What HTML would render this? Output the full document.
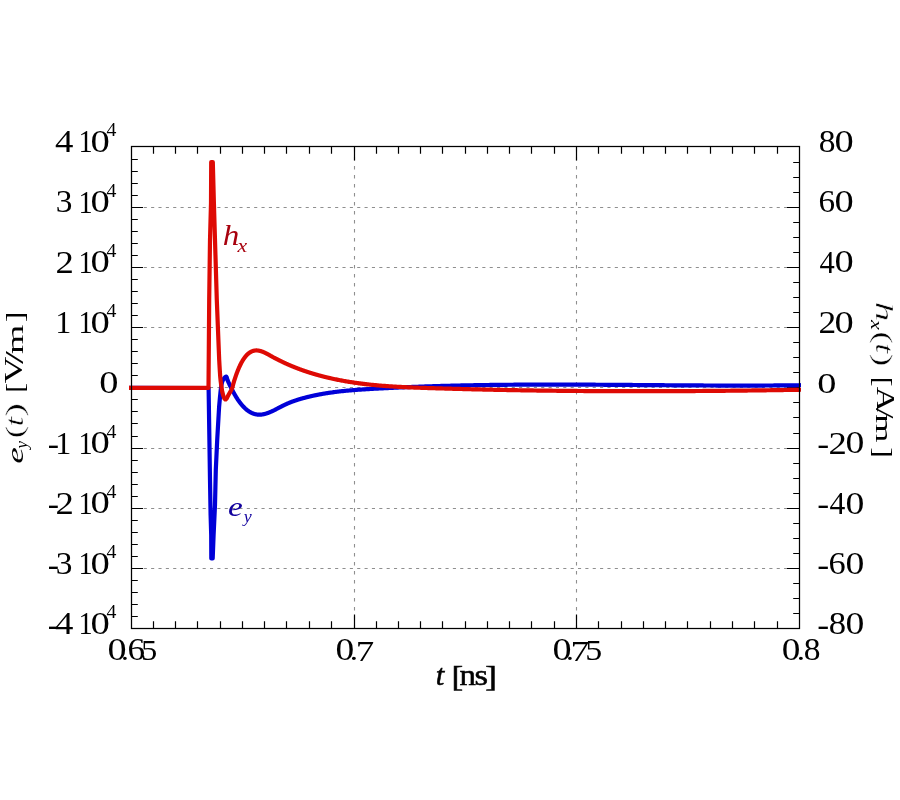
<!DOCTYPE html>
<html><head><meta charset="utf-8"><style>
html,body{margin:0;padding:0;background:#fff;width:900px;height:800px;overflow:hidden}
svg{display:block}
text{font-size:40px;stroke:#fff;stroke-width:0px;paint-order:normal}
.tx{opacity:0.999}
.r{font-family:"Liberation Serif",serif}
.i{font-family:"Liberation Serif",serif;font-style:italic}
</style></head><body>
<svg width="900" height="800" viewBox="0 0 900 800"><g stroke="#8f8f8f" stroke-width="1.1" stroke-dasharray="3.1 4.26" stroke-dashoffset="2.47"><line x1="131.50" y1="568.50" x2="799.50" y2="568.50"/><line x1="131.50" y1="508.50" x2="799.50" y2="508.50"/><line x1="131.50" y1="448.50" x2="799.50" y2="448.50"/><line x1="131.50" y1="387.50" x2="799.50" y2="387.50"/><line x1="131.50" y1="327.50" x2="799.50" y2="327.50"/><line x1="131.50" y1="267.50" x2="799.50" y2="267.50"/><line x1="131.50" y1="207.50" x2="799.50" y2="207.50"/></g><g stroke="#8f8f8f" stroke-width="1.1" stroke-dasharray="3.5 5.5"><line x1="354.50" y1="628.50" x2="354.50" y2="146.50"/><line x1="576.50" y1="628.50" x2="576.50" y2="146.50"/></g><path d="M153.50 628.50V621.20M153.50 146.50V153.80M175.50 628.50V621.20M175.50 146.50V153.80M197.50 628.50V621.20M197.50 146.50V153.80M220.50 628.50V621.20M220.50 146.50V153.80M242.50 628.50V621.20M242.50 146.50V153.80M264.50 628.50V621.20M264.50 146.50V153.80M286.50 628.50V621.20M286.50 146.50V153.80M309.50 628.50V621.20M309.50 146.50V153.80M331.50 628.50V621.20M331.50 146.50V153.80M354.50 628.50V614.50M354.50 146.50V160.50M376.50 628.50V621.20M376.50 146.50V153.80M398.50 628.50V621.20M398.50 146.50V153.80M420.50 628.50V621.20M420.50 146.50V153.80M442.50 628.50V621.20M442.50 146.50V153.80M465.50 628.50V621.20M465.50 146.50V153.80M487.50 628.50V621.20M487.50 146.50V153.80M509.50 628.50V621.20M509.50 146.50V153.80M531.50 628.50V621.20M531.50 146.50V153.80M554.50 628.50V621.20M554.50 146.50V153.80M576.50 628.50V614.50M576.50 146.50V160.50M598.50 628.50V621.20M598.50 146.50V153.80M621.50 628.50V621.20M621.50 146.50V153.80M643.50 628.50V621.20M643.50 146.50V153.80M665.50 628.50V621.20M665.50 146.50V153.80M687.50 628.50V621.20M687.50 146.50V153.80M710.50 628.50V621.20M710.50 146.50V153.80M732.50 628.50V621.20M732.50 146.50V153.80M754.50 628.50V621.20M754.50 146.50V153.80M777.50 628.50V621.20M777.50 146.50V153.80M131.50 159.50H137.80M131.50 171.50H137.80M131.50 183.50H137.80M131.50 195.50H137.80M131.50 207.50H143.00M131.50 219.50H137.80M131.50 231.50H137.80M131.50 243.50H137.80M131.50 255.50H137.80M131.50 267.50H143.00M131.50 279.50H137.80M131.50 291.50H137.80M131.50 303.50H137.80M131.50 315.50H137.80M131.50 327.50H143.00M131.50 339.50H137.80M131.50 351.50H137.80M131.50 363.50H137.80M131.50 375.50H137.80M131.50 387.50H143.00M131.50 399.50H137.80M131.50 411.50H137.80M131.50 423.50H137.80M131.50 436.50H137.80M131.50 448.50H143.00M131.50 460.50H137.80M131.50 472.50H137.80M131.50 484.50H137.80M131.50 496.50H137.80M131.50 508.50H143.00M131.50 520.50H137.80M131.50 532.50H137.80M131.50 544.50H137.80M131.50 556.50H137.80M131.50 568.50H143.00M131.50 580.50H137.80M131.50 592.50H137.80M131.50 604.50H137.80M131.50 616.50H137.80M799.50 162.50H793.20M799.50 177.50H793.20M799.50 192.50H793.20M799.50 207.50H787.00M799.50 222.50H793.20M799.50 237.50H793.20M799.50 252.50H793.20M799.50 267.50H787.00M799.50 282.50H793.20M799.50 297.50H793.20M799.50 312.50H793.20M799.50 327.50H787.00M799.50 342.50H793.20M799.50 357.50H793.20M799.50 372.50H793.20M799.50 387.50H787.00M799.50 402.50H793.20M799.50 417.50H793.20M799.50 433.50H793.20M799.50 448.50H787.00M799.50 463.50H793.20M799.50 478.50H793.20M799.50 493.50H793.20M799.50 508.50H787.00M799.50 523.50H793.20M799.50 538.50H793.20M799.50 553.50H793.20M799.50 568.50H787.00M799.50 583.50H793.20M799.50 598.50H793.20M799.50 613.50H793.20" stroke="#000" stroke-width="1.2" fill="none"/><polyline points="129.00,387.90 208.60,388.00 209.40,440.00 210.00,480.00 210.60,515.00 211.20,535.00 211.30,558.50 212.70,558.50 213.60,535.00 215.00,505.00 215.80,470.00 217.20,440.00 219.10,407.00 220.00,397.00 220.10,396.00 220.24,394.59 220.41,392.94 220.59,391.19 220.79,389.49 221.00,388.00 221.20,386.69 221.39,385.42 221.59,384.21 221.83,383.07 222.13,381.99 222.50,381.00 222.99,380.02 223.59,379.04 224.25,378.14 224.91,377.38 225.51,376.84 226.00,376.59 226.37,376.72 226.65,377.18 226.88,377.86 227.07,378.64 227.27,379.42 227.50,380.09 227.75,380.66 228.00,381.22 228.25,381.78 228.50,382.33 228.75,382.88 229.00,383.43 229.25,383.96 229.50,384.50 229.75,385.03 230.00,385.55 230.25,386.08 230.50,386.59 230.75,387.10 231.00,387.61 231.25,388.11 231.50,388.61 231.75,389.10 232.00,389.59 232.25,390.07 232.50,390.55 232.75,391.02 233.00,391.49 233.25,391.95 233.50,392.41 233.75,392.87 234.00,393.32 234.25,393.76 234.50,394.20 234.75,394.63 235.00,395.06 235.25,395.49 235.50,395.91 235.75,396.33 236.00,396.74 236.25,397.14 236.50,397.54 236.75,397.94 237.00,398.33 237.25,398.72 237.50,399.10 237.75,399.47 238.00,399.85 238.25,400.21 238.50,400.57 238.75,400.93 239.00,401.28 239.25,401.63 239.50,401.97 239.75,402.31 240.00,402.64 240.25,402.97 240.50,403.29 240.75,403.61 241.00,403.92 241.25,404.23 241.50,404.53 241.75,404.83 242.00,405.12 242.25,405.41 242.50,405.69 242.75,405.97 243.00,406.25 243.25,406.51 243.50,406.78 243.75,407.04 244.00,407.29 244.25,407.54 244.50,407.79 244.75,408.03 245.00,408.26 245.25,408.50 245.50,408.72 245.75,408.95 246.00,409.16 246.25,409.38 246.50,409.58 246.75,409.79 247.00,409.99 247.25,410.18 247.50,410.37 247.75,410.56 248.00,410.74 248.25,410.92 248.50,411.09 248.75,411.26 249.00,411.43 249.25,411.59 249.50,411.74 249.75,411.89 250.00,412.04 250.25,412.18 250.50,412.32 250.75,412.46 251.00,412.59 251.25,412.71 251.50,412.84 251.75,412.96 252.00,413.07 252.25,413.18 252.50,413.28 252.75,413.39 253.00,413.48 253.25,413.58 253.50,413.67 253.75,413.75 254.00,413.83 254.25,413.91 254.50,413.99 254.75,414.06 255.00,414.12 255.25,414.18 255.50,414.24 255.75,414.30 256.00,414.35 256.25,414.39 256.50,414.44 256.75,414.48 257.00,414.51 257.25,414.54 257.50,414.57 257.75,414.60 258.00,414.62 258.25,414.64 258.50,414.65 258.75,414.66 259.00,414.67 259.25,414.67 259.50,414.67 259.75,414.66 260.00,414.66 260.25,414.65 260.50,414.63 260.75,414.62 261.00,414.60 261.25,414.57 261.50,414.55 261.75,414.52 262.00,414.49 262.25,414.45 262.50,414.41 262.75,414.37 263.00,414.33 263.25,414.28 263.50,414.23 263.75,414.18 264.00,414.12 264.25,414.07 264.50,414.01 264.75,413.94 265.00,413.88 265.25,413.81 265.50,413.74 265.75,413.67 266.00,413.60 266.25,413.52 266.50,413.44 266.75,413.36 267.00,413.28 267.25,413.19 267.50,413.11 267.75,413.02 268.00,412.93 268.25,412.83 268.50,412.74 268.75,412.64 269.00,412.54 269.25,412.44 269.50,412.34 269.75,412.24 270.00,412.14 270.25,412.03 270.50,411.92 270.75,411.81 271.00,411.70 271.25,411.59 271.50,411.48 271.75,411.36 272.00,411.25 272.25,411.13 272.50,411.01 272.75,410.89 273.00,410.77 273.25,410.65 273.50,410.53 273.75,410.41 274.00,410.28 274.25,410.16 274.50,410.03 274.75,409.91 275.00,409.78 275.25,409.65 275.50,409.53 275.75,409.40 276.00,409.27 276.25,409.14 276.50,409.01 276.75,408.88 277.00,408.75 277.25,408.62 277.50,408.49 277.75,408.36 278.00,408.23 278.25,408.09 278.50,407.96 278.75,407.83 279.00,407.70 279.25,407.57 279.50,407.44 279.75,407.31 280.00,407.18 280.25,407.04 280.50,406.91 280.75,406.78 281.00,406.65 281.25,406.53 281.50,406.40 281.75,406.27 282.00,406.14 282.25,406.01 282.50,405.89 282.75,405.76 283.00,405.64 283.25,405.51 283.50,405.39 283.75,405.27 284.00,405.15 284.25,405.03 284.50,404.91 284.75,404.79 285.00,404.67 285.25,404.56 285.50,404.44 285.75,404.32 286.00,404.21 286.25,404.10 286.50,403.99 286.75,403.87 287.00,403.76 287.25,403.65 287.50,403.55 287.75,403.44 288.00,403.33 288.25,403.22 288.50,403.12 288.75,403.02 289.00,402.91 289.25,402.81 289.50,402.71 289.75,402.61 290.00,402.51 290.25,402.41 290.50,402.31 290.75,402.21 291.00,402.11 291.25,402.01 291.50,401.92 291.75,401.82 292.00,401.73 292.25,401.64 292.50,401.54 292.75,401.45 293.00,401.36 293.25,401.27 293.50,401.18 293.75,401.09 294.00,401.00 294.25,400.91 294.50,400.83 294.75,400.74 295.00,400.65 295.25,400.57 295.50,400.48 295.75,400.40 296.00,400.32 296.25,400.23 296.50,400.15 296.75,400.07 297.00,399.99 297.25,399.91 297.50,399.83 297.75,399.75 298.00,399.67 298.25,399.59 298.50,399.51 298.75,399.44 299.00,399.36 299.25,399.28 299.50,399.21 299.75,399.13 300.00,399.06 300.25,398.99 300.50,398.91 300.75,398.84 301.00,398.77 301.25,398.70 301.50,398.62 301.75,398.55 302.00,398.48 302.25,398.41 302.50,398.34 302.75,398.27 303.00,398.21 303.25,398.14 303.50,398.07 303.75,398.00 304.00,397.93 304.25,397.87 304.50,397.80 304.75,397.74 305.00,397.67 305.25,397.61 305.50,397.54 305.75,397.48 306.00,397.41 306.25,397.35 306.50,397.28 306.75,397.22 307.00,397.16 307.25,397.10 307.50,397.03 307.75,396.97 308.00,396.91 308.25,396.85 308.50,396.79 308.75,396.73 309.00,396.67 309.25,396.61 309.50,396.55 309.75,396.49 310.00,396.43 310.25,396.37 310.50,396.32 310.75,396.26 311.00,396.20 311.25,396.14 311.50,396.09 311.75,396.03 312.00,395.97 312.25,395.92 312.50,395.86 312.75,395.81 313.00,395.75 313.25,395.70 313.50,395.64 313.75,395.59 314.00,395.54 314.25,395.48 314.50,395.43 314.75,395.38 315.00,395.32 315.25,395.27 315.50,395.22 315.75,395.17 316.00,395.12 316.25,395.07 316.50,395.02 316.75,394.97 317.00,394.92 317.25,394.87 317.50,394.82 317.75,394.77 318.00,394.72 318.25,394.67 318.50,394.62 318.75,394.57 319.00,394.53 319.25,394.48 319.50,394.43 319.75,394.38 320.00,394.34 320.25,394.29 320.50,394.24 320.75,394.20 321.00,394.15 321.25,394.11 321.50,394.06 321.75,394.02 322.00,393.97 322.25,393.93 322.50,393.88 322.75,393.84 323.00,393.80 323.25,393.75 323.50,393.71 323.75,393.67 324.00,393.63 324.25,393.58 324.50,393.54 324.75,393.50 325.00,393.46 325.25,393.42 325.50,393.38 325.75,393.34 326.00,393.30 326.25,393.26 326.50,393.22 326.75,393.18 327.00,393.14 327.25,393.10 327.50,393.06 327.75,393.02 328.00,392.98 328.26,392.94 328.54,392.90 328.81,392.86 329.07,392.82 329.31,392.78 329.50,392.76 329.58,392.74 329.54,392.75 329.47,392.76 329.46,392.76 329.61,392.74 330.00,392.68 330.68,392.59 331.59,392.46 332.66,392.32 333.80,392.16 334.94,392.01 336.00,391.87 337.00,391.75 338.00,391.63 339.00,391.51 340.00,391.40 341.00,391.28 342.00,391.18 343.00,391.07 344.00,390.97 345.00,390.87 346.00,390.77 347.00,390.67 348.00,390.58 349.00,390.49 350.00,390.40 351.00,390.32 352.00,390.23 353.00,390.15 354.00,390.07 355.00,389.99 356.00,389.92 357.00,389.84 358.00,389.77 359.00,389.70 360.00,389.63 361.00,389.56 362.00,389.49 363.00,389.43 364.00,389.36 365.00,389.30 366.00,389.24 367.00,389.17 368.00,389.11 369.00,389.05 370.00,389.00 371.00,388.94 372.00,388.88 373.00,388.82 374.00,388.77 375.00,388.71 376.00,388.66 377.00,388.60 378.00,388.55 379.00,388.49 380.00,388.44 381.00,388.39 382.00,388.33 383.00,388.28 384.00,388.23 385.00,388.18 386.00,388.13 387.00,388.08 388.00,388.03 389.00,387.98 390.00,387.93 391.00,387.88 392.00,387.83 393.00,387.78 394.00,387.74 395.00,387.69 396.00,387.64 397.00,387.60 398.00,387.55 399.00,387.50 400.00,387.46 401.00,387.42 402.00,387.37 403.00,387.33 404.00,387.29 405.00,387.24 406.00,387.20 407.00,387.16 408.00,387.12 409.00,387.08 410.00,387.04 411.00,387.00 412.00,386.96 413.00,386.92 414.00,386.88 415.00,386.84 416.00,386.80 417.00,386.76 418.00,386.73 419.00,386.69 420.00,386.65 421.00,386.62 422.00,386.58 423.00,386.54 424.00,386.51 425.00,386.47 426.00,386.44 427.00,386.41 428.00,386.37 429.00,386.34 430.00,386.31 431.00,386.28 432.00,386.24 433.00,386.21 434.00,386.18 435.00,386.15 436.00,386.12 437.00,386.09 438.00,386.06 439.00,386.03 440.00,386.00 441.00,385.97 442.00,385.94 443.00,385.92 444.00,385.89 445.00,385.86 446.00,385.83 447.00,385.81 448.00,385.78 449.00,385.75 450.00,385.73 451.00,385.70 452.00,385.68 453.00,385.65 454.00,385.63 455.00,385.61 456.00,385.58 457.00,385.56 458.00,385.54 459.00,385.51 460.00,385.49 461.00,385.47 462.00,385.45 463.00,385.43 464.00,385.40 465.00,385.38 466.00,385.36 467.00,385.34 468.00,385.32 469.00,385.30 470.00,385.29 471.00,385.27 472.00,385.25 473.00,385.23 474.00,385.21 475.00,385.19 476.00,385.18 477.00,385.16 478.00,385.14 479.00,385.13 480.00,385.11 481.00,385.09 482.00,385.08 483.00,385.06 484.00,385.05 485.00,385.03 486.00,385.02 487.00,385.00 488.00,384.99 489.00,384.98 490.00,384.96 491.00,384.95 492.00,384.94 493.00,384.92 494.00,384.91 495.00,384.90 496.00,384.89 497.00,384.88 498.00,384.87 499.00,384.85 500.00,384.84 501.00,384.83 502.00,384.82 503.00,384.81 504.00,384.80 505.00,384.79 506.00,384.78 507.00,384.78 508.00,384.77 509.00,384.76 510.00,384.75 511.00,384.74 512.00,384.73 513.00,384.73 514.00,384.72 515.00,384.71 516.00,384.70 517.00,384.70 518.00,384.69 519.00,384.68 520.00,384.68 521.00,384.67 522.00,384.67 523.00,384.66 524.00,384.66 525.00,384.65 526.00,384.65 527.00,384.64 528.00,384.64 529.00,384.63 530.00,384.63 531.00,384.63 532.00,384.62 533.00,384.62 534.00,384.62 535.00,384.61 536.00,384.61 537.00,384.61 538.00,384.60 539.00,384.60 540.00,384.60 541.00,384.60 542.00,384.60 543.00,384.60 544.00,384.59 545.00,384.59 546.00,384.59 547.00,384.59 548.00,384.59 549.00,384.59 550.00,384.59 551.00,384.59 552.00,384.59 553.00,384.59 554.00,384.59 555.00,384.59 556.00,384.59 557.00,384.59 558.00,384.59 559.00,384.59 560.00,384.60 561.00,384.60 562.00,384.60 563.00,384.60 564.00,384.60 565.00,384.60 566.00,384.61 567.00,384.61 568.00,384.61 569.00,384.61 570.00,384.62 571.00,384.62 572.00,384.62 573.00,384.63 574.00,384.63 575.00,384.63 576.00,384.64 577.00,384.64 578.00,384.64 579.00,384.65 580.00,384.65 581.00,384.65 582.00,384.66 583.00,384.66 584.00,384.67 585.00,384.67 586.00,384.68 587.00,384.68 588.00,384.69 589.00,384.69 590.00,384.70 591.00,384.70 592.00,384.71 593.00,384.71 594.00,384.72 595.00,384.72 596.00,384.73 597.00,384.73 598.00,384.74 599.00,384.75 600.00,384.75 601.00,384.76 602.00,384.76 603.00,384.77 604.00,384.78 605.00,384.78 606.00,384.79 607.00,384.79 608.00,384.80 609.00,384.81 610.00,384.81 611.00,384.82 612.00,384.83 613.00,384.83 614.00,384.84 615.00,384.85 616.00,384.86 617.00,384.86 618.00,384.87 619.00,384.88 620.00,384.88 621.00,384.89 622.00,384.90 623.00,384.91 624.00,384.91 625.00,384.92 626.00,384.93 627.00,384.94 628.00,384.94 629.00,384.95 630.00,384.96 631.00,384.97 632.00,384.97 633.00,384.98 634.00,384.99 635.00,385.00 636.00,385.00 637.00,385.01 638.00,385.02 639.00,385.03 640.00,385.03 641.00,385.04 642.00,385.05 643.00,385.06 644.00,385.07 645.00,385.07 646.00,385.08 647.00,385.09 648.00,385.10 649.00,385.10 650.00,385.11 651.00,385.12 652.00,385.13 653.00,385.14 654.00,385.14 655.00,385.15 656.00,385.16 657.00,385.17 658.00,385.17 659.00,385.18 660.00,385.19 661.00,385.20 662.00,385.20 663.00,385.21 664.00,385.22 665.00,385.23 666.00,385.23 667.00,385.24 668.00,385.25 669.00,385.26 670.00,385.26 671.00,385.27 672.00,385.28 673.00,385.29 674.00,385.29 675.00,385.30 676.00,385.31 677.00,385.31 678.00,385.32 679.00,385.33 680.00,385.33 681.00,385.34 682.00,385.35 683.00,385.35 684.00,385.36 685.00,385.37 686.00,385.37 687.00,385.38 688.00,385.39 689.00,385.39 690.00,385.40 691.00,385.40 692.00,385.41 693.00,385.42 694.00,385.42 695.00,385.43 696.00,385.43 697.00,385.44 698.00,385.45 699.00,385.45 700.00,385.46 701.00,385.46 702.00,385.47 703.00,385.47 704.00,385.48 705.00,385.48 706.00,385.49 707.00,385.49 708.00,385.49 709.00,385.50 710.00,385.50 711.00,385.51 712.00,385.51 713.00,385.52 714.00,385.52 715.00,385.52 716.00,385.53 717.00,385.53 718.00,385.53 719.00,385.54 720.00,385.54 721.00,385.54 722.00,385.55 723.00,385.55 724.00,385.55 725.00,385.55 726.00,385.56 727.00,385.56 728.00,385.56 729.00,385.56 730.00,385.56 731.00,385.57 732.00,385.57 733.00,385.57 734.00,385.57 735.00,385.57 736.00,385.57 737.00,385.57 738.00,385.57 739.00,385.57 740.00,385.57 741.00,385.57 742.00,385.57 743.00,385.57 744.00,385.57 745.00,385.57 746.00,385.57 747.00,385.57 748.00,385.57 749.00,385.57 750.00,385.57 751.00,385.57 752.00,385.56 753.00,385.56 754.00,385.56 755.00,385.56 756.00,385.55 757.00,385.55 758.00,385.55 759.00,385.55 760.00,385.54 761.00,385.54 762.00,385.54 763.00,385.53 764.00,385.53 765.00,385.52 766.00,385.52 767.00,385.51 768.00,385.51 769.00,385.50 770.00,385.50 771.00,385.49 772.00,385.49 773.00,385.48 774.00,385.47 775.00,385.47 776.00,385.46 777.00,385.45 778.00,385.45 779.00,385.44 780.00,385.43 781.00,385.42 782.00,385.42 783.00,385.41 784.00,385.40 785.00,385.39 786.00,385.38 787.00,385.37 788.00,385.36 789.00,385.35 790.00,385.34 791.00,385.33 792.00,385.32 793.03,385.31 794.11,385.30 795.19,385.29 796.22,385.28 797.17,385.26 798.00,385.25 798.71,385.25 799.33,385.24 799.88,385.23 800.33,385.23 800.71,385.22 801.00,385.22" fill="none" stroke="#0000d8" stroke-width="4.2" stroke-linejoin="round"/><polyline points="129.00,387.90 208.50,387.90 209.20,300.00 210.00,240.00 211.00,203.00 211.20,162.00 212.80,162.00 213.90,203.00 215.00,240.00 216.80,300.00 219.20,360.00 219.31,361.93 219.46,364.67 219.65,367.88 219.85,371.22 220.05,374.37 220.25,377.00 220.45,379.10 220.65,380.94 220.85,382.59 221.06,384.11 221.28,385.56 221.50,387.00 221.71,388.42 221.91,389.78 222.12,391.06 222.34,392.28 222.60,393.42 222.90,394.50 223.26,395.59 223.65,396.72 224.08,397.78 224.54,398.67 225.02,399.27 225.50,399.50 226.00,399.26 226.54,398.62 227.08,397.69 227.64,396.62 228.20,395.51 228.75,394.50 229.31,393.54 229.90,392.51 230.48,391.46 231.05,390.40 231.56,389.37 232.00,388.38 232.35,387.45 232.63,386.55 232.86,385.66 233.06,384.80 233.27,383.95 233.50,383.11 233.75,382.28 234.00,381.46 234.25,380.65 234.50,379.86 234.75,379.08 235.00,378.31 235.25,377.55 235.50,376.81 235.75,376.08 236.00,375.37 236.25,374.66 236.50,373.97 236.75,373.29 237.00,372.62 237.25,371.97 237.50,371.32 237.75,370.69 238.00,370.07 238.25,369.46 238.50,368.86 238.75,368.28 239.00,367.70 239.25,367.14 239.50,366.59 239.75,366.05 240.00,365.52 240.25,365.00 240.50,364.49 240.75,364.00 241.00,363.51 241.25,363.03 241.50,362.57 241.75,362.11 242.00,361.67 242.25,361.24 242.50,360.81 242.75,360.40 243.00,359.99 243.25,359.60 243.50,359.22 243.75,358.84 244.00,358.48 244.25,358.12 244.50,357.77 244.75,357.44 245.00,357.11 245.25,356.79 245.50,356.48 245.75,356.18 246.00,355.89 246.25,355.60 246.50,355.33 246.75,355.07 247.00,354.81 247.25,354.56 247.50,354.32 247.75,354.09 248.00,353.86 248.25,353.65 248.50,353.44 248.75,353.24 249.00,353.05 249.25,352.86 249.50,352.68 249.75,352.51 250.00,352.35 250.25,352.20 250.50,352.05 250.75,351.91 251.00,351.78 251.25,351.65 251.50,351.53 251.75,351.42 252.00,351.31 252.25,351.21 252.50,351.12 252.75,351.03 253.00,350.95 253.25,350.88 253.50,350.81 253.75,350.75 254.00,350.69 254.25,350.65 254.50,350.60 254.75,350.56 255.00,350.53 255.25,350.50 255.50,350.48 255.75,350.47 256.00,350.45 256.25,350.45 256.50,350.45 256.75,350.45 257.00,350.46 257.25,350.48 257.50,350.49 257.75,350.52 258.00,350.54 258.25,350.58 258.50,350.61 258.75,350.65 259.00,350.70 259.25,350.75 259.50,350.80 259.75,350.86 260.00,350.92 260.25,350.98 260.50,351.05 260.75,351.12 261.00,351.20 261.25,351.28 261.50,351.36 261.75,351.45 262.00,351.53 262.25,351.62 262.50,351.72 262.75,351.82 263.00,351.92 263.25,352.02 263.50,352.12 263.75,352.23 264.00,352.34 264.25,352.45 264.50,352.57 264.75,352.68 265.00,352.80 265.25,352.92 265.50,353.04 265.75,353.16 266.00,353.29 266.25,353.42 266.50,353.55 266.75,353.68 267.00,353.81 267.25,353.94 267.50,354.07 267.75,354.21 268.00,354.34 268.25,354.48 268.50,354.61 268.75,354.75 269.00,354.89 269.25,355.03 269.50,355.17 269.75,355.31 270.00,355.45 270.25,355.59 270.50,355.73 270.75,355.87 271.00,356.00 271.25,356.14 271.50,356.28 271.75,356.42 272.00,356.56 272.25,356.70 272.50,356.83 272.75,356.97 273.00,357.11 273.25,357.24 273.50,357.38 273.75,357.51 274.00,357.65 274.25,357.78 274.50,357.91 274.75,358.05 275.00,358.18 275.25,358.31 275.50,358.44 275.75,358.57 276.00,358.70 276.25,358.83 276.50,358.96 276.75,359.09 277.00,359.22 277.25,359.35 277.50,359.48 277.75,359.61 278.00,359.73 278.25,359.86 278.50,359.99 278.75,360.11 279.00,360.24 279.25,360.36 279.50,360.49 279.75,360.61 280.00,360.73 280.25,360.86 280.50,360.98 280.75,361.10 281.00,361.22 281.25,361.35 281.50,361.47 281.75,361.59 282.00,361.71 282.25,361.83 282.50,361.95 282.75,362.07 283.00,362.18 283.25,362.30 283.50,362.42 283.75,362.54 284.00,362.65 284.25,362.77 284.50,362.89 284.75,363.00 285.00,363.12 285.25,363.23 285.50,363.35 285.75,363.46 286.00,363.57 286.25,363.69 286.50,363.80 286.75,363.91 287.00,364.02 287.25,364.14 287.50,364.25 287.75,364.36 288.00,364.47 288.25,364.58 288.50,364.69 288.75,364.80 289.00,364.91 289.25,365.01 289.50,365.12 289.75,365.23 290.00,365.34 290.25,365.44 290.50,365.55 290.75,365.66 291.00,365.76 291.25,365.87 291.50,365.97 291.75,366.08 292.00,366.18 292.25,366.28 292.50,366.39 292.75,366.49 293.00,366.59 293.25,366.70 293.50,366.80 293.75,366.90 294.00,367.00 294.25,367.10 294.50,367.20 294.75,367.30 295.00,367.40 295.25,367.50 295.50,367.60 295.75,367.70 296.00,367.79 296.25,367.89 296.50,367.99 296.75,368.09 297.00,368.18 297.25,368.28 297.50,368.38 297.75,368.47 298.00,368.57 298.25,368.66 298.50,368.76 298.75,368.85 299.00,368.94 299.25,369.04 299.50,369.13 299.75,369.22 300.00,369.32 300.25,369.41 300.50,369.50 300.75,369.59 301.00,369.68 301.25,369.77 301.50,369.86 301.75,369.95 302.00,370.04 302.25,370.13 302.50,370.22 302.75,370.31 303.00,370.40 303.25,370.48 303.50,370.57 303.75,370.66 304.00,370.75 304.25,370.83 304.50,370.92 304.75,371.00 305.00,371.09 305.25,371.17 305.50,371.26 305.75,371.34 306.00,371.43 306.25,371.51 306.50,371.60 306.75,371.68 307.00,371.76 307.25,371.84 307.50,371.93 307.75,372.01 308.00,372.09 308.25,372.17 308.50,372.25 308.75,372.33 309.00,372.41 309.25,372.49 309.50,372.57 309.75,372.65 310.00,372.73 310.25,372.81 310.50,372.89 310.75,372.97 311.00,373.04 311.25,373.12 311.50,373.20 311.75,373.28 312.00,373.35 312.25,373.43 312.50,373.50 312.75,373.58 313.00,373.66 313.25,373.73 313.50,373.81 313.75,373.88 314.00,373.95 314.25,374.03 314.50,374.10 314.75,374.18 315.00,374.25 315.25,374.32 315.50,374.39 315.75,374.47 316.00,374.54 316.25,374.61 316.50,374.68 316.75,374.75 317.00,374.82 317.25,374.89 317.50,374.96 317.75,375.03 318.00,375.10 318.25,375.17 318.50,375.24 318.75,375.31 319.00,375.38 319.25,375.44 319.50,375.51 319.75,375.58 320.00,375.65 320.25,375.71 320.50,375.78 320.75,375.85 321.00,375.91 321.25,375.98 321.50,376.05 321.75,376.11 322.00,376.18 322.25,376.24 322.50,376.31 322.75,376.37 323.00,376.43 323.25,376.50 323.50,376.56 323.75,376.63 324.00,376.69 324.25,376.75 324.50,376.81 324.75,376.88 325.00,376.94 325.25,377.00 325.50,377.06 325.75,377.12 326.00,377.18 326.25,377.24 326.50,377.31 326.75,377.37 327.00,377.43 327.25,377.49 327.50,377.55 327.75,377.60 328.00,377.66 328.26,377.73 328.54,377.79 328.81,377.85 329.07,377.91 329.31,377.97 329.50,378.01 329.58,378.03 329.54,378.02 329.47,378.01 329.46,378.01 329.61,378.04 330.00,378.13 330.68,378.28 331.59,378.48 332.66,378.71 333.80,378.96 334.94,379.21 336.00,379.43 337.00,379.63 338.00,379.84 339.00,380.03 340.00,380.23 341.00,380.42 342.00,380.60 343.00,380.79 344.00,380.97 345.00,381.15 346.00,381.32 347.00,381.49 348.00,381.66 349.00,381.82 350.00,381.98 351.00,382.14 352.00,382.30 353.00,382.45 354.00,382.60 355.00,382.75 356.00,382.89 357.00,383.03 358.00,383.17 359.00,383.30 360.00,383.43 361.00,383.56 362.00,383.69 363.00,383.82 364.00,383.94 365.00,384.06 366.00,384.17 367.00,384.29 368.00,384.40 369.00,384.51 370.00,384.62 371.00,384.72 372.00,384.82 373.00,384.92 374.00,385.02 375.00,385.12 376.00,385.21 377.00,385.30 378.00,385.39 379.00,385.48 380.00,385.57 381.00,385.65 382.00,385.73 383.00,385.81 384.00,385.89 385.00,385.96 386.00,386.04 387.00,386.11 388.00,386.18 389.00,386.25 390.00,386.32 391.00,386.38 392.00,386.45 393.00,386.51 394.00,386.57 395.00,386.63 396.00,386.69 397.00,386.75 398.00,386.80 399.00,386.86 400.00,386.91 401.00,386.96 402.00,387.01 403.00,387.06 404.00,387.11 405.00,387.16 406.00,387.21 407.00,387.25 408.00,387.30 409.00,387.34 410.00,387.38 411.00,387.42 412.00,387.46 413.00,387.50 414.00,387.54 415.00,387.58 416.00,387.62 417.00,387.66 418.00,387.69 419.00,387.73 420.00,387.76 421.00,387.80 422.00,387.83 423.00,387.87 424.00,387.90 425.00,387.93 426.00,387.97 427.00,388.00 428.00,388.03 429.00,388.06 430.00,388.10 431.00,388.13 432.00,388.16 433.00,388.19 434.00,388.22 435.00,388.25 436.00,388.28 437.00,388.31 438.00,388.34 439.00,388.37 440.00,388.40 441.00,388.43 442.00,388.46 443.00,388.49 444.00,388.52 445.00,388.55 446.00,388.58 447.00,388.61 448.00,388.64 449.00,388.67 450.00,388.70 451.00,388.72 452.00,388.75 453.00,388.78 454.00,388.81 455.00,388.84 456.00,388.86 457.00,388.89 458.00,388.92 459.00,388.94 460.00,388.97 461.00,389.00 462.00,389.02 463.00,389.05 464.00,389.07 465.00,389.10 466.00,389.13 467.00,389.15 468.00,389.18 469.00,389.20 470.00,389.23 471.00,389.25 472.00,389.28 473.00,389.30 474.00,389.33 475.00,389.35 476.00,389.37 477.00,389.40 478.00,389.42 479.00,389.44 480.00,389.47 481.00,389.49 482.00,389.51 483.00,389.54 484.00,389.56 485.00,389.58 486.00,389.60 487.00,389.63 488.00,389.65 489.00,389.67 490.00,389.69 491.00,389.71 492.00,389.73 493.00,389.75 494.00,389.78 495.00,389.80 496.00,389.82 497.00,389.84 498.00,389.86 499.00,389.88 500.00,389.90 501.00,389.92 502.00,389.94 503.00,389.96 504.00,389.98 505.00,390.00 506.00,390.01 507.00,390.03 508.00,390.05 509.00,390.07 510.00,390.09 511.00,390.11 512.00,390.13 513.00,390.14 514.00,390.16 515.00,390.18 516.00,390.20 517.00,390.21 518.00,390.23 519.00,390.25 520.00,390.26 521.00,390.28 522.00,390.30 523.00,390.31 524.00,390.33 525.00,390.35 526.00,390.36 527.00,390.38 528.00,390.39 529.00,390.41 530.00,390.42 531.00,390.44 532.00,390.45 533.00,390.47 534.00,390.48 535.00,390.50 536.00,390.51 537.00,390.53 538.00,390.54 539.00,390.55 540.00,390.57 541.00,390.58 542.00,390.59 543.00,390.61 544.00,390.62 545.00,390.63 546.00,390.65 547.00,390.66 548.00,390.67 549.00,390.68 550.00,390.70 551.00,390.71 552.00,390.72 553.00,390.73 554.00,390.74 555.00,390.76 556.00,390.77 557.00,390.78 558.00,390.79 559.00,390.80 560.00,390.81 561.00,390.82 562.00,390.83 563.00,390.84 564.00,390.85 565.00,390.86 566.00,390.87 567.00,390.88 568.00,390.89 569.00,390.90 570.00,390.91 571.00,390.92 572.00,390.93 573.00,390.94 574.00,390.95 575.00,390.95 576.00,390.96 577.00,390.97 578.00,390.98 579.00,390.99 580.00,391.00 581.00,391.00 582.00,391.01 583.00,391.02 584.00,391.03 585.00,391.03 586.00,391.04 587.00,391.05 588.00,391.05 589.00,391.06 590.00,391.07 591.00,391.07 592.00,391.08 593.00,391.09 594.00,391.09 595.00,391.10 596.00,391.10 597.00,391.11 598.00,391.11 599.00,391.12 600.00,391.12 601.00,391.13 602.00,391.13 603.00,391.14 604.00,391.14 605.00,391.15 606.00,391.15 607.00,391.16 608.00,391.16 609.00,391.16 610.00,391.17 611.00,391.17 612.00,391.18 613.00,391.18 614.00,391.18 615.00,391.18 616.00,391.19 617.00,391.19 618.00,391.19 619.00,391.20 620.00,391.20 621.00,391.20 622.00,391.20 623.00,391.20 624.00,391.21 625.00,391.21 626.00,391.21 627.00,391.21 628.00,391.21 629.00,391.21 630.00,391.22 631.00,391.22 632.00,391.22 633.00,391.22 634.00,391.22 635.00,391.22 636.00,391.22 637.00,391.22 638.00,391.22 639.00,391.22 640.00,391.22 641.00,391.22 642.00,391.22 643.00,391.22 644.00,391.22 645.00,391.22 646.00,391.22 647.00,391.22 648.00,391.22 649.00,391.21 650.00,391.21 651.00,391.21 652.00,391.21 653.00,391.21 654.00,391.21 655.00,391.20 656.00,391.20 657.00,391.20 658.00,391.20 659.00,391.19 660.00,391.19 661.00,391.19 662.00,391.19 663.00,391.18 664.00,391.18 665.00,391.18 666.00,391.17 667.00,391.17 668.00,391.17 669.00,391.16 670.00,391.16 671.00,391.16 672.00,391.15 673.00,391.15 674.00,391.14 675.00,391.14 676.00,391.14 677.00,391.13 678.00,391.13 679.00,391.12 680.00,391.12 681.00,391.11 682.00,391.11 683.00,391.10 684.00,391.10 685.00,391.09 686.00,391.08 687.00,391.08 688.00,391.07 689.00,391.07 690.00,391.06 691.00,391.05 692.00,391.05 693.00,391.04 694.00,391.04 695.00,391.03 696.00,391.02 697.00,391.01 698.00,391.01 699.00,391.00 700.00,390.99 701.00,390.99 702.00,390.98 703.00,390.97 704.00,390.96 705.00,390.96 706.00,390.95 707.00,390.94 708.00,390.93 709.00,390.92 710.00,390.92 711.00,390.91 712.00,390.90 713.00,390.89 714.00,390.88 715.00,390.87 716.00,390.86 717.00,390.86 718.00,390.85 719.00,390.84 720.00,390.83 721.00,390.82 722.00,390.81 723.00,390.80 724.00,390.79 725.00,390.78 726.00,390.77 727.00,390.76 728.00,390.75 729.00,390.74 730.00,390.73 731.00,390.72 732.00,390.71 733.00,390.70 734.00,390.69 735.00,390.67 736.00,390.66 737.00,390.65 738.00,390.64 739.00,390.63 740.00,390.62 741.00,390.61 742.00,390.60 743.00,390.58 744.00,390.57 745.00,390.56 746.00,390.55 747.00,390.54 748.00,390.52 749.00,390.51 750.00,390.50 751.00,390.49 752.00,390.47 753.00,390.46 754.00,390.45 755.00,390.44 756.00,390.42 757.00,390.41 758.00,390.40 759.00,390.38 760.00,390.37 761.00,390.36 762.00,390.34 763.00,390.33 764.00,390.32 765.00,390.30 766.00,390.29 767.00,390.27 768.00,390.26 769.00,390.25 770.00,390.23 771.00,390.22 772.00,390.20 773.00,390.19 774.00,390.17 775.00,390.16 776.00,390.14 777.00,390.13 778.00,390.11 779.00,390.10 780.00,390.08 781.00,390.07 782.00,390.05 783.00,390.04 784.00,390.02 785.00,390.01 786.00,389.99 787.00,389.98 788.00,389.96 789.00,389.94 790.00,389.93 791.00,389.91 792.00,389.90 793.03,389.88 794.11,389.86 795.19,389.84 796.22,389.83 797.17,389.81 798.00,389.80 798.71,389.78 799.33,389.77 799.88,389.76 800.33,389.76 800.71,389.75 801.00,389.75" fill="none" stroke="#de0a04" stroke-width="4.2" stroke-linejoin="round"/><rect x="131.50" y="146.50" width="668.00" height="482.00" fill="none" stroke="#000" stroke-width="1.25"/><g class="tx"><text class="r" transform="translate(47.74 634.99) scale(0.8469 0.7864)">-</text><text class="r" transform="translate(55.08 634.30) scale(0.9197 0.8052)">4</text><text class="r" transform="translate(78.50 634.30) scale(0.7101 0.7991)">1</text><text class="r" transform="translate(90.53 633.99) scale(0.9674 0.7854)">0</text><text class="r" transform="translate(106.41 618.30) scale(0.4948 0.4862)">4</text><text class="r" transform="translate(47.74 574.74) scale(0.8469 0.7864)">-</text><text class="r" transform="translate(55.80 573.74) scale(0.8352 0.7888)">3</text><text class="r" transform="translate(78.50 574.05) scale(0.7101 0.7991)">1</text><text class="r" transform="translate(90.53 573.74) scale(0.9674 0.7854)">0</text><text class="r" transform="translate(106.41 558.05) scale(0.4948 0.4862)">4</text><text class="r" transform="translate(47.74 514.49) scale(0.8469 0.7864)">-</text><text class="r" transform="translate(55.39 513.80) scale(0.9167 0.8005)">2</text><text class="r" transform="translate(78.50 513.80) scale(0.7101 0.7991)">1</text><text class="r" transform="translate(90.53 513.49) scale(0.9674 0.7854)">0</text><text class="r" transform="translate(106.41 497.80) scale(0.4948 0.4862)">4</text><text class="r" transform="translate(47.74 454.24) scale(0.8469 0.7864)">-</text><text class="r" transform="translate(55.28 453.55) scale(0.8024 0.8028)">1</text><text class="r" transform="translate(78.50 453.55) scale(0.7101 0.7991)">1</text><text class="r" transform="translate(90.53 453.24) scale(0.9674 0.7854)">0</text><text class="r" transform="translate(106.41 437.55) scale(0.4948 0.4862)">4</text><text class="r" transform="translate(99.14 392.79) scale(0.9615 0.7817)">0</text><text class="r" transform="translate(55.28 333.05) scale(0.8024 0.8028)">1</text><text class="r" transform="translate(78.50 333.05) scale(0.7101 0.7991)">1</text><text class="r" transform="translate(90.53 332.74) scale(0.9674 0.7854)">0</text><text class="r" transform="translate(106.41 317.05) scale(0.4948 0.4862)">4</text><text class="r" transform="translate(55.39 272.80) scale(0.9167 0.8005)">2</text><text class="r" transform="translate(78.50 272.80) scale(0.7101 0.7991)">1</text><text class="r" transform="translate(90.53 272.49) scale(0.9674 0.7854)">0</text><text class="r" transform="translate(106.41 256.80) scale(0.4948 0.4862)">4</text><text class="r" transform="translate(55.80 212.24) scale(0.8352 0.7888)">3</text><text class="r" transform="translate(78.50 212.55) scale(0.7101 0.7991)">1</text><text class="r" transform="translate(90.53 212.24) scale(0.9674 0.7854)">0</text><text class="r" transform="translate(106.41 196.55) scale(0.4948 0.4862)">4</text><text class="r" transform="translate(55.08 152.30) scale(0.9197 0.8052)">4</text><text class="r" transform="translate(78.50 152.30) scale(0.7101 0.7991)">1</text><text class="r" transform="translate(90.53 151.99) scale(0.9674 0.7854)">0</text><text class="r" transform="translate(106.41 136.30) scale(0.4948 0.4862)">4</text><text class="r" transform="translate(817.37 634.99) scale(0.8950 0.7864)">-</text><text class="r" transform="translate(828.68 634.15) scale(0.8671 0.7669)">8</text><text class="r" transform="translate(845.56 634.15) scale(0.9438 0.7669)">0</text><text class="r" transform="translate(817.37 574.74) scale(0.8950 0.7864)">-</text><text class="r" transform="translate(828.52 573.90) scale(0.8602 0.7702)">6</text><text class="r" transform="translate(845.56 573.90) scale(0.9438 0.7669)">0</text><text class="r" transform="translate(817.37 514.49) scale(0.8950 0.7864)">-</text><text class="r" transform="translate(829.38 513.95) scale(0.7906 0.7862)">4</text><text class="r" transform="translate(845.56 513.65) scale(0.9438 0.7669)">0</text><text class="r" transform="translate(817.37 454.24) scale(0.8950 0.7864)">-</text><text class="r" transform="translate(828.39 453.70) scale(0.9167 0.7816)">2</text><text class="r" transform="translate(845.56 453.40) scale(0.9438 0.7669)">0</text><text class="r" transform="translate(817.29 392.51) scale(0.9585 0.7521)">0</text><text class="r" transform="translate(818.44 332.85) scale(0.8856 0.8005)">2</text><text class="r" transform="translate(834.54 332.54) scale(0.9615 0.7854)">0</text><text class="r" transform="translate(819.40 272.60) scale(0.7637 0.8052)">4</text><text class="r" transform="translate(834.54 272.29) scale(0.9615 0.7854)">0</text><text class="r" transform="translate(818.57 212.04) scale(0.8309 0.7888)">6</text><text class="r" transform="translate(834.54 212.04) scale(0.9615 0.7854)">0</text><text class="r" transform="translate(818.72 151.79) scale(0.8376 0.7854)">8</text><text class="r" transform="translate(834.54 151.79) scale(0.9615 0.7854)">0</text><text class="r" transform="translate(107.54 660.45) scale(0.9556 0.7687)">0</text><text class="r" transform="translate(120.94 660.35) scale(0.7828 0.7088)">.</text><text class="r" transform="translate(127.59 660.45) scale(0.8777 0.7721)">6</text><text class="r" transform="translate(141.01 660.46) scale(0.8130 0.7430)">5</text><text class="r" transform="translate(335.47 660.45) scale(0.9379 0.7687)">0</text><text class="r" transform="translate(349.72 660.35) scale(0.8251 0.7088)">.</text><text class="r" transform="translate(355.66 660.75) scale(0.9253 0.7541)">7</text><text class="r" transform="translate(552.54 660.45) scale(0.9556 0.7687)">0</text><text class="r" transform="translate(565.94 660.35) scale(0.7828 0.7088)">.</text><text class="r" transform="translate(570.41 660.75) scale(0.9438 0.7541)">7</text><text class="r" transform="translate(585.32 660.46) scale(0.8502 0.7430)">5</text><text class="r" transform="translate(781.68 660.45) scale(0.9320 0.7687)">0</text><text class="r" transform="translate(796.72 660.35) scale(0.8251 0.7088)">.</text><text class="r" transform="translate(803.72 660.45) scale(0.8376 0.7687)">8</text><text class="i" transform="translate(435.65 684.61) scale(0.7680 0.7464)" style="stroke:#000;stroke-width:0.70px">t</text><text class="r" transform="translate(451.50 685.96) scale(0.8758 0.7552)" style="stroke:#000;stroke-width:0.70px">[</text><text class="r" transform="translate(459.54 684.90) scale(0.8227 0.7428)" style="stroke:#000;stroke-width:0.70px">n</text><text class="r" transform="translate(474.47 684.62) scale(0.8734 0.7277)" style="stroke:#000;stroke-width:0.70px">s</text><text class="r" transform="translate(485.13 685.96) scale(0.8758 0.7552)" style="stroke:#000;stroke-width:0.70px">]</text><text class="i" transform="translate(22.78 463.64) rotate(-90) scale(0.9280 0.5614)">e</text><text class="i" transform="translate(27.16 448.39) rotate(-90) scale(0.4215 0.4335)">y</text><text class="r" transform="translate(23.32 438.38) rotate(-90) scale(0.9539 0.6204)" style="stroke-width:0.60px">(</text><text class="i" transform="translate(22.76 426.54) rotate(-90) scale(0.8763 0.6154)" style="stroke-width:0.50px">t</text><text class="r" transform="translate(23.32 416.50) rotate(-90) scale(1.0123 0.6204)" style="stroke-width:0.60px">)</text><text class="r" transform="translate(23.34 392.67) rotate(-90) scale(0.7298 0.6283)">[</text><text class="r" transform="translate(22.22 383.42) rotate(-90) scale(0.9290 0.6232)">V</text><text class="r" transform="translate(22.75 364.00) rotate(-90) scale(1.1698 0.6391)">/</text><text class="r" transform="translate(22.60 353.89) rotate(-90) scale(0.9410 0.5995)">m</text><text class="r" transform="translate(23.34 322.15) rotate(-90) scale(0.7972 0.6283)">]</text><text class="i" transform="translate(876.00 301.56) rotate(90) scale(0.9944 0.6450)" style="stroke-width:0.60px">h</text><text class="i" transform="translate(870.90 320.07) rotate(90) scale(0.5516 0.4357)">x</text><text class="r" transform="translate(875.38 331.32) rotate(90) scale(0.9539 0.6314)" style="stroke-width:0.60px">(</text><text class="i" transform="translate(876.24 343.16) rotate(90) scale(0.8763 0.6154)" style="stroke-width:0.50px">t</text><text class="r" transform="translate(875.38 353.77) rotate(90) scale(0.9539 0.6314)" style="stroke-width:0.60px">)</text><text class="r" transform="translate(875.28 376.80) rotate(90) scale(0.7411 0.6313)">[</text><text class="r" transform="translate(876.50 386.86) rotate(90) scale(0.8616 0.6533)">A</text><text class="r" transform="translate(876.24 408.00) rotate(90) scale(0.9448 0.6166)">/</text><text class="r" transform="translate(876.00 414.24) rotate(90) scale(0.9107 0.5995)">m</text><text class="r" transform="translate(875.28 447.60) rotate(90) scale(0.7635 0.6313)">]</text><text class="i" transform="translate(222.80 244.75) scale(0.8287 0.7476)" fill="#a8000e">h</text><text class="i" transform="translate(237.52 251.75) scale(0.5432 0.4766)" fill="#a8000e">x</text><text class="i" transform="translate(227.98 515.74) scale(0.8320 0.6757)" fill="#12009e">e</text><text class="i" transform="translate(243.75 521.99) scale(0.4500 0.4353)" fill="#12009e">y</text></g></svg>
</body></html>
